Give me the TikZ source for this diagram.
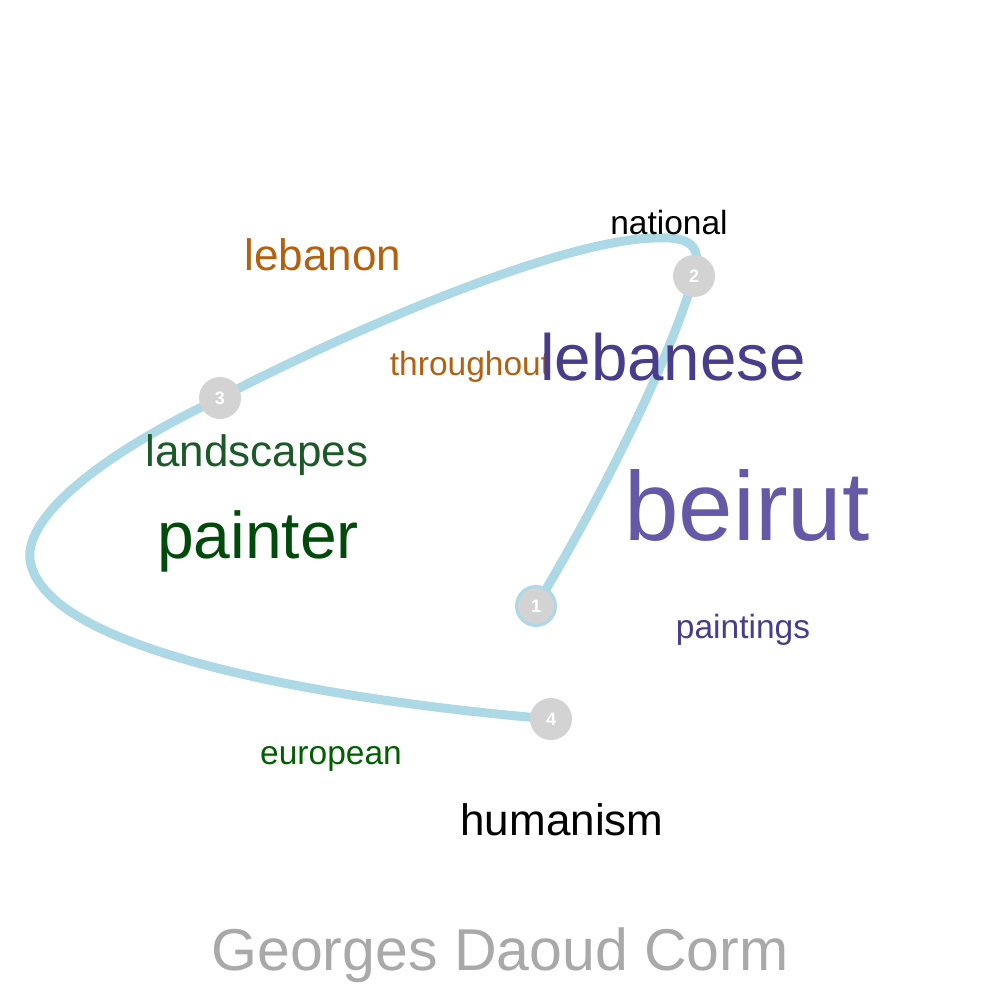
\documentclass[tikz,border=0pt]{standalone}
\usepackage{fontspec}
\setmainfont{Liberation Sans}
\definecolor{edgeblue}{HTML}{ADD8E6}
\definecolor{nodegray}{HTML}{D3D3D3}
\definecolor{orangebrown}{HTML}{B3600F}
\definecolor{slateA}{HTML}{483D8B}
\definecolor{slateB}{HTML}{6458A7}
\definecolor{greenA}{HTML}{004A0C}
\definecolor{greenB}{HTML}{1B5A28}
\definecolor{greenC}{HTML}{006000}
\definecolor{titlegray}{HTML}{A9A9A9}
\tikzset{
  word/.style={anchor=base, inner sep=0pt, font=\fontsize{#1}{#1}\selectfont},
  stop/.style={circle, fill=nodegray, minimum size=42pt, inner sep=0pt, text=white, font=\fontsize{18}{18}\selectfont\bfseries},
  route/.style={draw=edgeblue, line width=9pt, line cap=round, line join=round}
}
\begin{document}
\begin{tikzpicture}[x=1pt,y=-1pt]
\useasboundingbox[fill=white] (0,0) rectangle (1000,1000);
% route
\coordinate (c1) at (536,606);
\coordinate (c2) at (694,276);
\coordinate (c3) at (220,398);
\coordinate (c4) at (551,719);
\coordinate (peak) at (655,238);
\coordinate (left) at (30,560);
\draw[route] (c1) .. controls (600,500) and (670,360) .. (c2)
  .. controls (703,246) and (690,236) .. (peak)
  .. controls (560,240) and (350,330) .. (c3)
  .. controls (90,460) and (25,520) .. (left)
  .. controls (45,660) and (380,705) .. (c4);
% words
\node[word=44, text=orangebrown] (wlebanon) at (323,270) {lebanon};
\node[word=33.5, text=orangebrown] (wthroughout) at (470,375) {throughout};
\node[word=65.5, text=slateA] (wlebanese) at (673,380) {lebanese};
\node[word=33.5, text=black] (wnational) at (669,235) {national};
\node[word=44, text=greenB] (wlandscapes) at (257,466) {landscapes};
\node[word=98, text=slateB] (wbeirut) at (747,540) {beirut};
\node[word=66, text=greenA] (wpainter) at (258,558) {painter};
\node[word=33.5, text=slateA] (wpaintings) at (743,638) {paintings};
\node[word=33.5, text=greenC] (weuropean) at (331,764) {european};
\node[word=44, text=black] (whumanism) at (562,835) {humanism};
\node[word=59, text=titlegray] (wtitle) at (500,970) {Georges Daoud Corm};
% stops
\node[stop, draw=edgeblue, line width=3pt, minimum size=39pt] (n1) at (c1) {1};
\node[stop] (n2) at (c2) {2};
\node[stop] (n3) at (c3) {3};
\node[stop] (n4) at (c4) {4};
\end{tikzpicture}
\end{document}
